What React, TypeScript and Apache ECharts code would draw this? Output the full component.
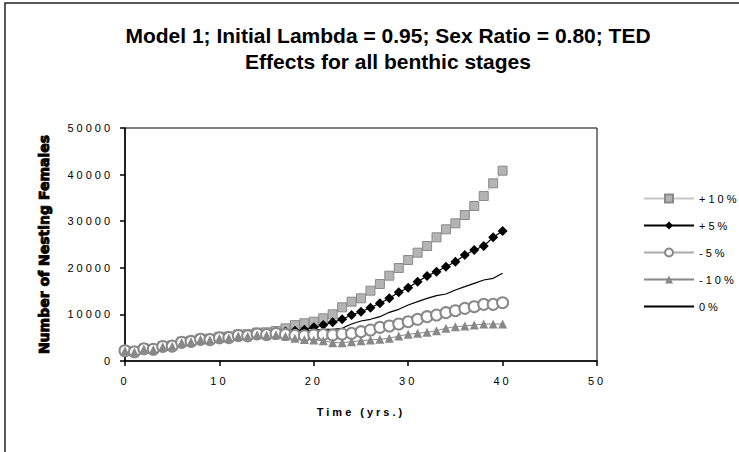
import React, { useEffect, useRef } from "react";
import * as echarts from "echarts";

const TITLE_LINES = ["Model 1; Initial Lambda = 0.95; Sex Ratio = 0.80; TED", "Effects for all benthic stages"];
const X_NAME = "Time (yrs.)";
const Y_NAME = "Number of Nesting Females";
const SERIES_NAMES = ["+10%", "+5%", "-5%", "-10%", "0%"];

const YEARS = [0, 1, 2, 3, 4, 5, 6, 7, 8, 9, 10, 11, 12, 13, 14, 15, 16, 17, 18, 19, 20, 21, 22, 23, 24, 25, 26, 27, 28, 29, 30, 31, 32, 33, 34, 35, 36, 37, 38, 39, 40];

const PLUS10 = [2200, 2050, 2700, 2600, 3200, 3350, 4150, 4350, 4800, 4800, 5200, 5250, 5700, 5750, 6100, 6150, 6450, 7000, 7700, 8100, 8430, 9160, 10020, 11520, 12730, 13450, 15090, 16520, 18310, 19960, 21670, 23240, 24680, 26540, 28260, 29550, 31330, 33260, 35400, 38130, 40840];
const PLUS5 = [2200, 2030, 2680, 2580, 3180, 3300, 4100, 4300, 4750, 4720, 5120, 5180, 5620, 5620, 6000, 5950, 6250, 6350, 6500, 6700, 7230, 7720, 8300, 8950, 9870, 10580, 11440, 12380, 13450, 14740, 15730, 17020, 18240, 19170, 20240, 21310, 22750, 23820, 24680, 26540, 27900];
const MINUS5 = [2200, 1980, 2620, 2520, 3120, 3200, 4000, 4200, 4650, 4580, 4980, 5020, 5470, 5400, 5800, 5680, 5900, 5700, 5500, 5400, 5580, 5680, 5580, 5790, 5940, 6290, 6650, 7230, 7510, 7940, 8430, 8950, 9510, 9870, 10370, 10790, 11300, 11650, 12160, 12160, 12510];
const MINUS10 = [2200, 1950, 2600, 2480, 3080, 3150, 3950, 4150, 4600, 4500, 4900, 4950, 5380, 5300, 5650, 5500, 5650, 5300, 4900, 4600, 4500, 4360, 3930, 3930, 4140, 4360, 4510, 4650, 4870, 5370, 5730, 5940, 6160, 6510, 7020, 7370, 7510, 7720, 7940, 7940, 7940];
const ZERO = [2200, 2000, 2650, 2550, 3150, 3250, 4050, 4250, 4700, 4650, 5050, 5100, 5550, 5500, 5900, 5800, 6050, 6000, 6200, 6400, 6650, 6800, 6800, 7020, 7940, 8580, 8950, 9510, 10450, 11090, 12020, 12730, 13450, 14020, 14380, 15240, 15950, 16670, 17380, 17750, 18820];

const X_MIN = 0, X_MAX = 50, X_STEP = 10;
const Y_MIN = 0, Y_MAX = 50000, Y_STEP = 10000;

const CSS = `.chartbox text[style*="Arial"]{letter-spacing:3px;}`;

export default function App() {
  const ref = useRef<HTMLDivElement>(null);
  useEffect(() => {
    document.body.style.margin = "0";
    const chart = echarts.init(ref.current!, null, { renderer: "svg" });
    const pairs = (vals: number[]) => YEARS.map((y, i) => [y, vals[i]]);
    chart.setOption({
      animation: false,
      backgroundColor: "#ffffff",
      title: {
        text: TITLE_LINES.join("\n"),
        left: 383,
        top: 17,
        textAlign: "center",
        textStyle: { fontFamily: "Liberation Sans", fontWeight: "bold", fontSize: 21, lineHeight: 26, color: "#000" },
      },
      graphic: [
        {
          type: "rect",
          silent: true,
          z: -10,
          shape: { x: 5, y: 3, width: 900, height: 900 },
          style: { fill: "none", stroke: "#222", lineWidth: 1.5 },
        },
      ],
      legend: {
        orient: "vertical",
        left: 638,
        top: 188,
        itemWidth: 50,
        itemHeight: 10,
        itemGap: 16,
        textStyle: { fontFamily: "Arial", fontSize: 11, color: "#000" },
        data: [
          { name: SERIES_NAMES[0] },
          { name: SERIES_NAMES[1] },
          { name: SERIES_NAMES[2] },
          { name: SERIES_NAMES[3] },
          { name: SERIES_NAMES[4], itemStyle: { opacity: 0 } },
        ],
      },
      grid: { left: 125, top: 128, width: 472, height: 233, show: true, borderColor: "#000", borderWidth: 1 },
      xAxis: {
        type: "value",
        min: X_MIN,
        max: X_MAX,
        interval: X_STEP,
        name: X_NAME,
        nameLocation: "middle",
        nameGap: 45,
        nameTextStyle: { fontFamily: "Arial", fontWeight: "bold", fontSize: 11, color: "#000" },
        axisLine: { show: true, lineStyle: { color: "#000", width: 1.5 } },
        axisTick: { show: true, length: 5, lineStyle: { color: "#000", width: 1.5 } },
        axisLabel: { fontFamily: "Arial", fontSize: 11, color: "#000", margin: 14 },
        splitLine: { show: false },
      },
      yAxis: {
        type: "value",
        min: Y_MIN,
        max: Y_MAX,
        interval: Y_STEP,
        name: Y_NAME,
        nameLocation: "middle",
        nameRotate: 90,
        nameGap: 74,
        nameTextStyle: {
          fontFamily: "DejaVu Sans",
          fontWeight: "bold",
          fontSize: 14,
          color: "#000",
          textBorderColor: "#000",
          textBorderWidth: 0.9,
        },
        axisLine: { show: true, lineStyle: { color: "#000", width: 1.5 } },
        axisTick: { show: true, length: 5, lineStyle: { color: "#000", width: 1.5 } },
        axisLabel: { fontFamily: "Arial", fontSize: 11, color: "#000", margin: 12, formatter: (v: number) => String(v) },
        splitLine: { show: false },
      },
      series: [
        {
          name: SERIES_NAMES[0],
          type: "line",
          data: pairs(PLUS10),
          symbol: "rect",
          symbolSize: 9,
          lineStyle: { color: "#c8c8c8", width: 1 },
          itemStyle: { color: "#b4b4b4", borderColor: "#8a8a8a", borderWidth: 1 },
        },
        {
          name: SERIES_NAMES[1],
          type: "line",
          data: pairs(PLUS5),
          symbol: "diamond",
          symbolSize: 10,
          lineStyle: { color: "#000", width: 1.2 },
          itemStyle: { color: "#000", borderWidth: 0 },
        },
        {
          name: SERIES_NAMES[2],
          type: "line",
          data: pairs(MINUS5),
          symbol: "emptyCircle",
          symbolSize: 11,
          lineStyle: { color: "#aaa", width: 1 },
          itemStyle: { color: "#888", borderWidth: 1.3 },
        },
        {
          name: SERIES_NAMES[3],
          type: "line",
          data: pairs(MINUS10),
          symbol: "triangle",
          symbolSize: 9,
          lineStyle: { color: "#888", width: 1 },
          itemStyle: { color: "#888", borderWidth: 0 },
        },
        {
          name: SERIES_NAMES[4],
          type: "line",
          data: pairs(ZERO),
          symbol: "none",
          lineStyle: { color: "#000", width: 1.2 },
          itemStyle: { color: "#000" },
        },
      ],
    });
    return () => chart.dispose();
  }, []);
  return (
    <div>
      <style>{CSS}</style>
      <div ref={ref} className="chartbox" style={{ width: 739, height: 452 }} />
    </div>
  );
}
